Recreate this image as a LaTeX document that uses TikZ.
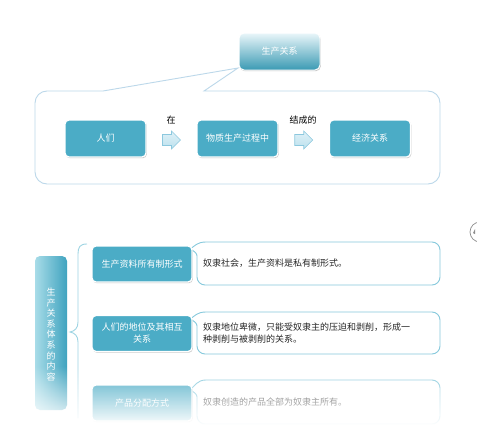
\documentclass[tikz,border=0pt]{standalone}
\usepackage{fontspec}
\setmainfont{Noto Sans CJK SC}
\usetikzlibrary{shadows,fadings,calc}
\definecolor{tealbox}{HTML}{4BACC6}
\definecolor{tealdark}{HTML}{3A9AB3}
\definecolor{tealtop}{HTML}{EAF6FA}
\definecolor{framec}{HTML}{BCD8EA}
\definecolor{calloutc}{HTML}{86C9DC}
\definecolor{arrowfill}{HTML}{C9E7F2}
\definecolor{arrowdraw}{HTML}{8CC8DE}
\definecolor{vleft}{HTML}{A8DCE8}
\definecolor{vright}{HTML}{3FA3BF}
\tikzfading[name=fadedown, top color=transparent!100, bottom color=transparent!0]
\begin{document}
\begin{tikzpicture}[x=1pt,y=-1pt,
  font=\fontsize{9}{11}\selectfont,
  bshadow/.style={drop shadow={shadow xshift=0.8pt, shadow yshift=-1.2pt, opacity=0.3, fill=black!70}},
  topboxstyle/.style={rectangle, rounded corners=5pt, top color=tealtop, bottom color=tealdark, draw=white, line width=1pt, text=white, minimum width=81pt, minimum height=37pt, inner sep=2pt, bshadow},
  flowbox/.style={rectangle, rounded corners=4pt, fill=tealbox, draw=white, line width=1.3pt, text=white, minimum width=81pt, minimum height=37pt, inner sep=2pt, align=center, bshadow},
  rowbox/.style={flowbox, minimum width=100pt, minimum height=36pt, font=\fontsize{9}{12}\selectfont},
  calloutline/.style={draw=calloutc, line width=0.9pt, fill=white},
  frameline/.style={draw=framec, line width=0.9pt, fill=white},
  rtext/.style={anchor=west, align=left, inner sep=0pt, text=black!85, font=\fontsize{9}{12}\selectfont},
  lbl/.style={inner sep=1pt, text=black},
  barrow/.pic={\draw[draw=arrowdraw, line width=0.6pt, top color=arrowfill!60!white, bottom color=arrowfill!90!tealbox]
     (-9,-5.5) -- (0,-5.5) -- (0,-9) -- (9,0) -- (0,9) -- (0,5.5) -- (-9,5.5) -- cycle;}
]
\useasboundingbox (0,0) rectangle (477,442);
\fill[white] (0,0) rectangle (477,442);

% ---------- top part ----------
\draw[frameline] (103,91) -- (238,68) -- (204,91) [rounded corners=12pt] -- (440,91) -- (440,184) -- (35,184) -- (35,91) -- (60,91) [sharp corners] -- cycle;
\node[topboxstyle] (sc) at (279.5,51.5) {生产关系};

\node[flowbox] (people) at (105.5,138.5) {人们};
\node[flowbox] (proc) at (237.5,138.5) {物质生产过程中};
\node[flowbox] (econ) at (370,138.5) {经济关系};

\coordinate (a1) at ($(people.east)!0.5!(proc.west)+(0,1.5)$);
\coordinate (a2) at ($(proc.east)!0.5!(econ.west)+(0,1.5)$);
\pic at (a1) {barrow};
\pic at (a2) {barrow};
\node[lbl] (zai) at (171,120) {在};
\node[lbl] (jcd) at (303,120) {结成的};

% ---------- bottom part ----------
\node[rectangle, rounded corners=5pt, left color=vleft, right color=vright, minimum width=32pt, minimum height=154pt, inner sep=0pt] (vb) at (51,333) {};
\node[text=white, align=center, inner sep=0pt, font=\fontsize{9}{10.6}\selectfont] (vbt) at (51,334.5)
  {生\\产\\关\\系\\体\\系\\的\\内\\容};

\draw[draw=calloutc!80!white, line width=0.9pt] (87,244) .. controls (80,244) and (78,247) .. (78,254) -- (78,322)
  .. controls (78,328) and (75,331) .. (70,332) .. controls (75,333) and (78,336) .. (78,342) -- (78,418);

% row 1
\draw[calloutline] (190,249) .. controls (195,246) and (197,242) .. (206,242) [rounded corners=8pt] -- (440,242) -- (440,285) -- (197,285) -- (197,265) [sharp corners] -- (197,256) .. controls (197,253) and (194,251) .. (190,249);
\node[rowbox] (r1l) at (142,264) {生产资料所有制形式};
\node[rtext] (r1r) at (203,263.5) {奴隶社会，生产资料是私有制形式。};

% row 2
\draw[calloutline] (190,319) .. controls (195,316) and (197,312) .. (206,312) [rounded corners=8pt] -- (440,312) -- (440,354) -- (197,354) -- (197,335) [sharp corners] -- (197,326) .. controls (197,323) and (194,321) .. (190,319);
\node[rowbox] (r2l) at (142,333.5) {人们的地位及其相互\\关系};
\node[rtext] (r2r) at (203,333.5) {奴隶地位卑微，只能受奴隶主的压迫和剥削，形成一\\种剥削与被剥削的关系。};

% row 3
\draw[calloutline] (190,390) .. controls (195,386) and (197,380) .. (206,380) [rounded corners=8pt] -- (440,380) -- (440,424) -- (197,424) -- (197,406) [sharp corners] -- (197,397) .. controls (197,394) and (194,392) .. (190,390);
\node[rowbox] (r3l) at (142,403) {产品分配方式};
\node[rtext] (r3r) at (203,402) {奴隶创造的产品全部为奴隶主所有。};

% fade-out at the bottom
\fill[white, path fading=fadedown] (20,366) rectangle (457,426);
\fill[white] (20,426) rectangle (457,442);

% partial icon at right edge
\node[circle, draw=black!45, line width=0.7pt, minimum size=20pt, inner sep=0pt] (icon) at (480,232) {};
\fill[black!45] (473,233) -- (475,229) -- (475,234) -- cycle;
\end{tikzpicture}
\end{document}
